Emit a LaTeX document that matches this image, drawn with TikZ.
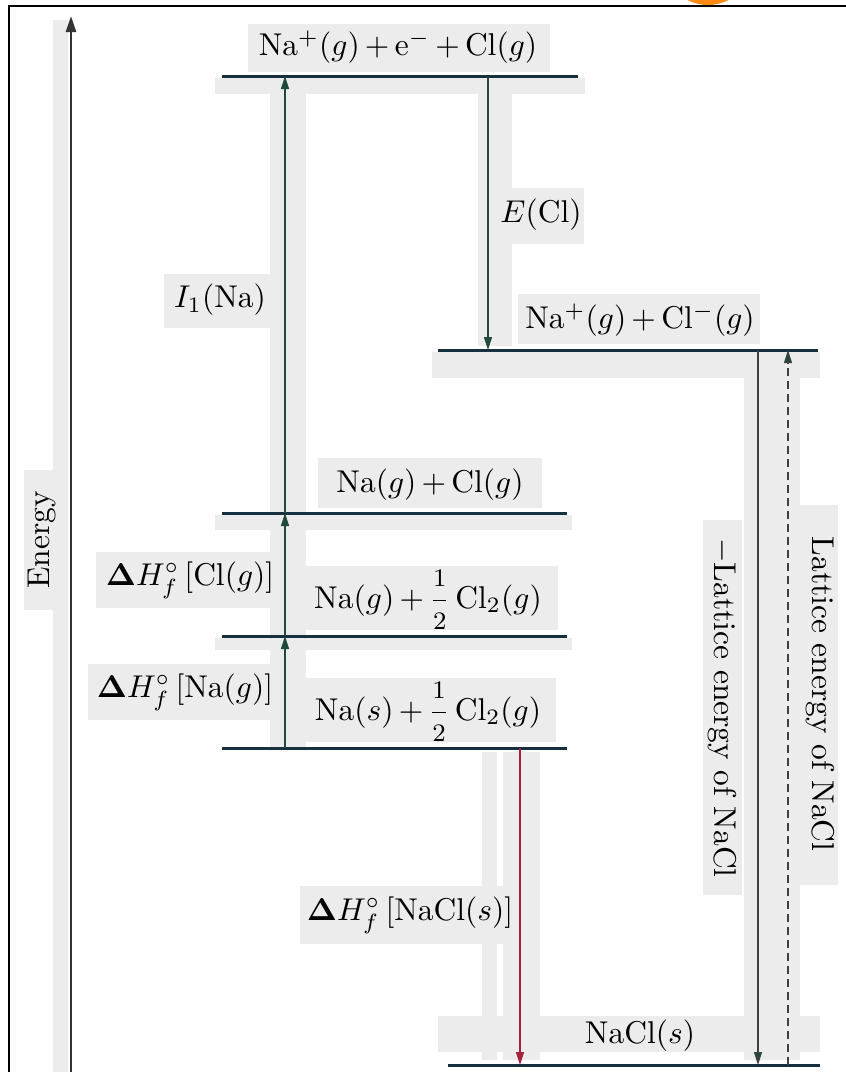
\documentclass[tikz,border=0pt]{standalone}
\usetikzlibrary{arrows.meta}
\definecolor{lvlcol}{HTML}{17303F}
\definecolor{arrcol}{HTML}{1F4A3C}
\definecolor{redcol}{HTML}{A3223C}
\definecolor{bandcol}{HTML}{ECECEC}
\definecolor{orng}{HTML}{FF8A12}
\newcommand{\pl}{\,+\,}
\newcommand{\myhalf}{$\displaystyle\frac{\mbox{\footnotesize 1}}{\mbox{\footnotesize 2}}$}
\begin{document}
\begin{tikzpicture}[x=1pt,y=-1pt,
  lvl/.style={line width=3pt, draw=lvlcol},
  tr/.style={line width=1.2pt, draw=arrcol, -{Triangle[width=8pt,length=13pt]}},
  lbl/.style={font=\normalsize, scale=3.15, inner sep=0pt},
  band/.style={fill=bandcol}]
\useasboundingbox (0,0) rectangle (846,1072);
% background haze bands
\fill[band] (53,20) rectangle (68,1072);
\fill[band] (24,470) rectangle (58,610);
\fill[band] (215,78) rectangle (585,94);
\fill[band] (248,24) rectangle (550,72);
\fill[band] (270,94) rectangle (306,748);
\fill[band] (478,94) rectangle (512,346);
\fill[band] (498,188) rectangle (584,244);
\fill[band] (164,274) rectangle (272,328);
\fill[band] (432,352) rectangle (820,378);
\fill[band] (518,294) rectangle (760,344);
\fill[band] (215,515) rectangle (572,530);
\fill[band] (318,458) rectangle (542,508);
\fill[band] (215,638) rectangle (572,650);
\fill[band] (298,566) rectangle (558,630);
\fill[band] (96,552) rectangle (282,608);
\fill[band] (88,664) rectangle (280,720);
\fill[band] (300,678) rectangle (556,742);
\fill[band] (482,752) rectangle (497,1060);
\fill[band] (503,752) rectangle (540,1060);
\fill[band] (300,886) rectangle (520,944);
\fill[band] (703,520) rectangle (742,895);
\fill[band] (744,355) rectangle (800,1060);
\fill[band] (800,505) rectangle (838,885);
\fill[band] (438,1016) rectangle (820,1052);
% frame
\draw[line width=2.5pt] (9,1072) -- (9,6) -- (846,6);
\fill[orng] (708,-39) circle (44);
% energy axis
\coordinate (eb) at (71,1072);
\coordinate (et) at (71,16);
\draw[line width=2.4pt, draw=black!80, -{Triangle[width=10pt,length=16pt]}] (eb) -- (et);
\node[lbl, rotate=90] (energy) at (42,540) {Energy};
% levels
\coordinate (L1w) at (222,76);  \coordinate (L1e) at (578,76);
\coordinate (L2w) at (438,350); \coordinate (L2e) at (818,350);
\coordinate (L3w) at (222,513); \coordinate (L3e) at (567,513);
\coordinate (L4w) at (222,636); \coordinate (L4e) at (567,636);
\coordinate (L5w) at (222,748); \coordinate (L5e) at (567,748);
\coordinate (L6w) at (448,1065); \coordinate (L6e) at (820,1065);
\draw[lvl] (L1w) -- (L1e);
\draw[lvl] (L2w) -- (L2e);
\draw[lvl] (L3w) -- (L3e);
\draw[lvl] (L4w) -- (L4e);
\draw[lvl] (L5w) -- (L5e);
\draw[lvl] (L6w) -- (L6e);
\node[lbl] (t1) at (398,47) {Na$^{+}$($g$)\pl e$^{-}$\pl Cl($g$)};
\node[lbl] (t2) at (640,320) {Na$^{+}$($g$)\pl Cl$^{-}$($g$)};
\node[lbl] (t3) at (430,485) {Na($g$)\pl Cl($g$)};
\node[lbl] (t4) at (428,600) {Na($g$)\pl \myhalf\,Cl$_2$($g$)};
\node[lbl] (t5) at (428,712) {Na($s$)\pl \myhalf\,Cl$_2$($g$)};
\node[lbl] (t6) at (640,1036) {NaCl($s$)};
% step arrows
\coordinate (a5) at (285,748); \coordinate (a4) at (285,636);
\coordinate (a3) at (285,513); \coordinate (a1) at (285,76);
\draw[tr] (a5) -- (a4);
\draw[tr] (a4) -- (a3);
\draw[tr] (a3) -- (a1);
\node[lbl] (ion) at (220,300) {$I_1$(Na)};
\node[lbl] (hcl) at (190,580) {$\mathbf{\Delta}H_f^{\circ}$\,[Cl($g$)]};
\node[lbl] (hna) at (185,692) {$\mathbf{\Delta}H_f^{\circ}$\,[Na($g$)]};
\coordinate (e1) at (488,76); \coordinate (e2) at (488,350);
\draw[tr] (e1) -- (e2);
\node[lbl] (ecl) at (541,215) {$E$(Cl)};
\coordinate (r1) at (520,748); \coordinate (r2) at (520,1065);
\draw[line width=1.2pt, draw=redcol, -{Triangle[width=8pt,length=13pt]}] (r1) -- (r2);
\node[lbl] (hnacl) at (410,915) {$\mathbf{\Delta}H_f^{\circ}$\,[NaCl($s$)]};
\coordinate (m1) at (758,350); \coordinate (m2) at (758,1065);
\draw[line width=1.2pt, draw=black!75, -{Triangle[width=8pt,length=13pt,fill=arrcol]}] (m1) -- (m2);
\node[lbl, rotate=-90] (mlat) at (722,708) {$-$Lattice energy of NaCl};
\coordinate (p1) at (788,1065); \coordinate (p2) at (788,350);
\draw[line width=1.1pt, draw=black!75, dash pattern=on 8pt off 5pt, -{Triangle[width=8pt,length=13pt,fill=arrcol]}] (p1) -- (p2);
\node[lbl, rotate=-90] (plat) at (820,694) {Lattice energy of NaCl};
\end{tikzpicture}
\end{document}
